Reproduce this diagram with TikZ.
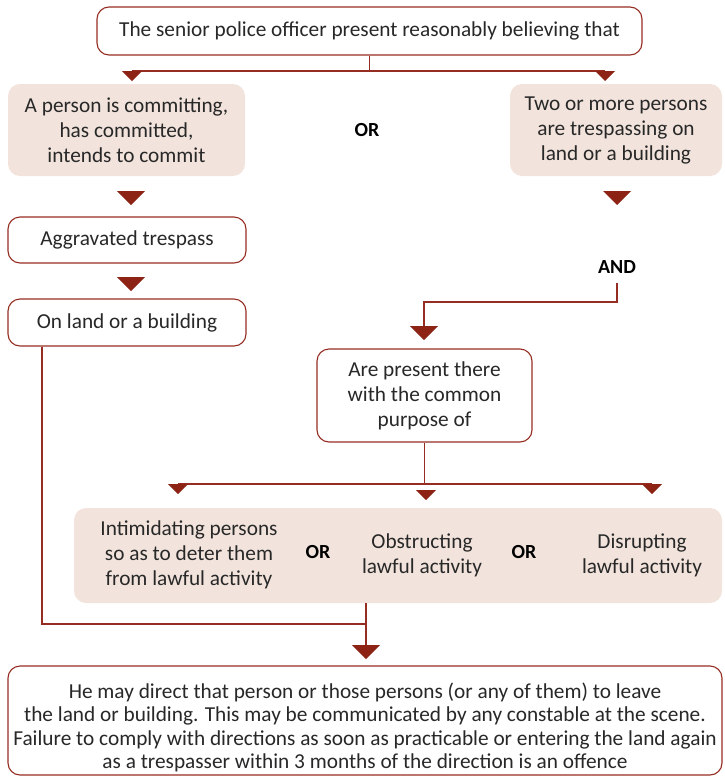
\documentclass[tikz,border=0pt]{standalone}
\usepackage{fontspec}
\setmainfont{Carlito}
\usetikzlibrary{positioning, calc}
\definecolor{brickred}{RGB}{150,45,35}
\definecolor{arrowred}{RGB}{140,35,20}
\definecolor{sand}{RGB}{242,228,220}
\definecolor{inkgray}{RGB}{40,40,40}
\tikzset{
  outlinebox/.style={draw=brickred, line width=1.1pt, rounded corners=12pt, fill=white, inner sep=0pt},
  sandbox/.style={fill=sand, rounded corners=12pt, inner sep=0pt},
  link/.style={draw=brickred, line width=1.1pt},
  joinword/.style={font=\fontsize{20}{25}\bfseries, text=black},
  bigtri/.pic={\fill[arrowred] (-14,0) -- (14,0) -- (0,14) -- cycle;},
  smalltri/.pic={\fill[arrowred] (-10,0) -- (10,0) -- (0,10) -- cycle;},
}

\begin{document}
\begin{tikzpicture}[x=1pt, y=-1pt, every node/.style={font=\fontsize{21.3}{25}\selectfont, text=inkgray, align=center}]
		\useasboundingbox (0,0) rectangle (724,777);
		
		\node[outlinebox, minimum width=545pt, minimum height=48pt] (senior) at (369.5,31) {The senior police officer present reasonably believing that};
		\coordinate (forkL) at (132,71);
		\coordinate (forkR) at (605,71);
		\draw[link] (senior.south) -- (senior.south |- forkL);
		\draw[link] (forkL) -- (forkR);
		\pic at (forkL) {smalltri};
		\pic at (forkR) {smalltri};
		
		\node[sandbox, minimum width=237pt, minimum height=92pt] (person) at (126.5,130) {A person is committing,\\has committed,\\intends to commit};
		\node[joinword] (or1) at (367,130) {OR};
		\node[sandbox, minimum width=212pt, minimum height=92pt] (trespass) at (616,130) {Two or more persons\\are trespassing on\\land or a building};
		\pic at (131,191) {bigtri};
		\pic at (617,191) {bigtri};
		
		\node[outlinebox, minimum width=238pt, minimum height=46pt] (aggr) at (127,240) {Aggravated trespass};
		\pic at (131,277) {bigtri};
		\node[outlinebox, minimum width=238pt, minimum height=47pt] (onland) at (127,322.5) {On land or a building};
		
		\node[joinword] (and) at (617,267) {AND};
		\coordinate (andfoot) at (617,283);
		\coordinate (purposetip) at (424,326);
		\draw[link] (andfoot) -- ++(0,19) -| (purposetip);
		\pic at (purposetip) {bigtri};
		\node[outlinebox, minimum width=215pt, minimum height=93pt] (purpose) at (424.5,395.5) {Are present there\\with the common\\purpose of};
		
		\coordinate (forkA) at (178,484);
		\coordinate (forkC) at (652,484);
		\draw[link] (purpose.south) -- (purpose.south |- forkA);
		\draw[link] (forkA) -- (forkC);
		\pic at (forkA) {smalltri};
		\pic at (forkC) {smalltri};
		\pic at (426,490) {smalltri};
		
		\node[sandbox, minimum width=648pt, minimum height=95pt] (aims) at (398,555.5) {};
		\node (intimidate) at (189,555) {Intimidating persons\\so as to deter them\\from lawful activity};
		\node[joinword] (or2) at (318,552) {OR};
		\node (obstruct) at (422,555.5) {Obstructing\\lawful activity};
		\node[joinword] (or3) at (524,552) {OR};
		\node (disrupt) at (642,555.5) {Disrupting\\lawful activity};
		
		\coordinate (mergeL) at (42,624);
		\coordinate (mergetip) at (366,645);
		\draw[link] (onland.south -| mergeL) |- (mergetip |- mergeL);
		\draw[link] (aims.south -| mergetip) -- (mergetip);
		\pic at (mergetip) {bigtri};
		\node[outlinebox, minimum width=714pt, minimum height=109pt, font=\fontsize{21.3}{23.5}\selectfont] (outcome) at (365,720.5) {\rule{0pt}{29pt}He may direct that person or those persons (or any of them) to leave\\the land or building. This may be communicated by any constable at the scene.\\Failure to comply with directions as soon as practicable or entering the land again\\as a trespasser within 3 months of the direction is an offence};
\end{tikzpicture}
\end{document}
